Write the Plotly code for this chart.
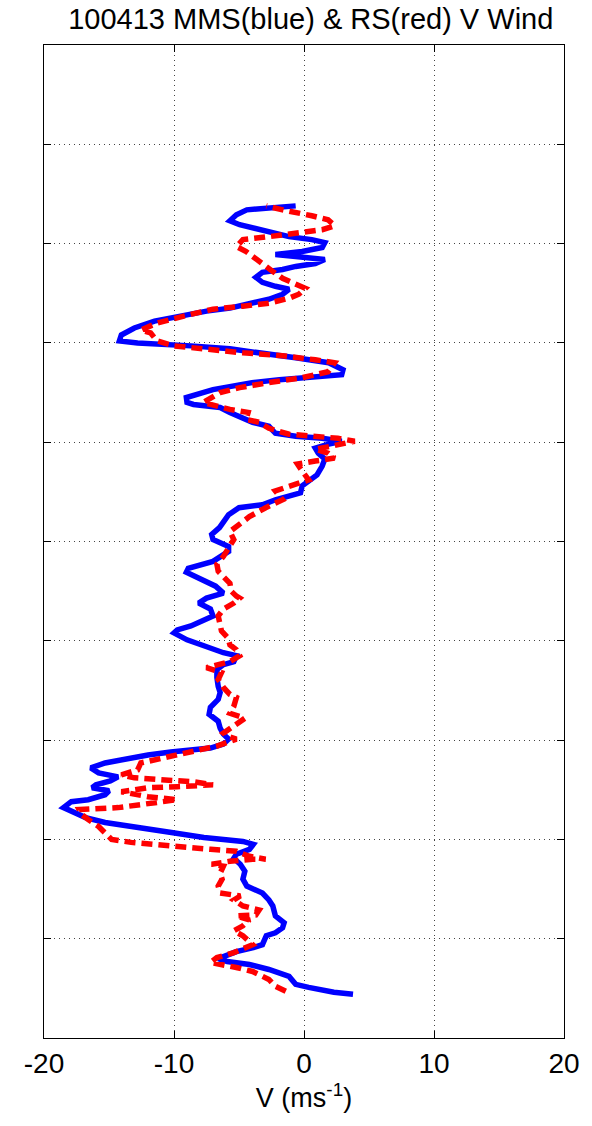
import plotly.graph_objects as go

# MMS (blue) V wind profile: (V in m/s, height index)
mms_v = [3.77, 2.3, 0.36, -0.64, -1.15, -2.7, -4.2, -5.9, -6.6, -6.2, -5.2, -3.9, -3.2, -2.9, -2.2,
         -1.65, -1.53, -2.2, -2.4, -2.7, -3.2, -4.4, -4.7, -4.55, -4.9, -5.4, -5.2, -4.2, -3.9, -4.7,
         -7.7, -10.2, -12.8, -15.3, -16.8, -17.3, -18.1, -18.5, -17.9, -16.6, -15.3, -15.0, -16.3, -16.0,
         -14.9, -14.3, -15.8, -16.4, -15.3, -13.8, -12.0, -10.25, -8.7, -7.2, -6.2, -5.8, -6.2, -6.45,
         -6.6, -7.3, -7.2, -6.6, -6.45, -6.6, -6.7, -6.7, -6.2, -5.4, -5.2, -6.2, -7.7, -9.0, -10.0,
         -9.75, -8.7, -7.0, -7.2, -8.1, -7.5, -6.2, -6.8, -8.05, -9.05, -8.9, -8.3, -7.0, -5.8, -5.8,
         -7.0, -7.1, -6.5, -6.2, -5.8, -5.0, -3.2, -2.2, -1.15, -0.27, -0.14, 0.36, 1.0, 1.4, 1.6, 1.1,
         0.87, 1.9, 2.9, 1.4, -0.64, -2.2, -2.7, -3.95, -4.95, -5.7, -6.45, -7.5, -8.5, -9.0, -9.05,
         -7.0, -5.7, -4.0, -1.9, 0.6, 2.9, 3.0, 1.9, -0.64, -3.2, -5.7, -8.7, -10.8, -12.8, -14.2,
         -14.05, -13.05, -11.5, -9.5, -7.5, -5.7, -3.95, -2.7, -1.65, -1.15, -2.2, -3.2, -3.7, -3.2,
         -1.65, -0.64, 0.87, 1.6, -0.64, -2.2, -0.14, 1.4, 1.6, 0.6, -1.15, -2.4, -3.7, -4.95, -5.7,
         -5.2, -4.4, -2.7, -0.64]
mms_h = [0.44, 0.46, 0.51, 0.54, 0.62, 0.69, 0.74, 0.77, 0.80, 0.82, 0.87, 0.91, 0.94, 1.03, 1.06,
         1.11, 1.16, 1.23, 1.33, 1.39, 1.46, 1.53, 1.60, 1.68, 1.75, 1.81, 1.85, 1.90, 1.95, 1.98,
         2.02, 2.07, 2.12, 2.17, 2.22, 2.25, 2.30, 2.32, 2.38, 2.40, 2.45, 2.49, 2.52, 2.55,
         2.59, 2.63, 2.67, 2.72, 2.77, 2.81, 2.85, 2.88, 2.90, 2.92, 2.96, 3.01, 3.06, 3.12,
         3.19, 3.26, 3.33, 3.41, 3.48, 3.54, 3.63, 3.71, 3.76, 3.79, 3.85, 3.88, 3.95, 4.01, 4.08,
         4.11, 4.15, 4.25, 4.32, 4.38, 4.43, 4.48, 4.55, 4.62, 4.69, 4.73, 4.75, 4.80, 4.90, 4.95,
         5.02, 5.07, 5.14, 5.20, 5.27, 5.34, 5.37, 5.42, 5.46, 5.49, 5.56, 5.61, 5.67, 5.76, 5.83, 5.89,
         5.94, 5.98, 6.01, 6.04, 6.06, 6.09, 6.16, 6.20, 6.25, 6.30, 6.35, 6.36, 6.38, 6.40, 6.45,
         6.53, 6.56, 6.60, 6.63, 6.65, 6.68, 6.73, 6.80, 6.85, 6.90, 6.94, 6.97, 6.98, 7.00, 7.02,
         7.08, 7.15, 7.22, 7.27, 7.32, 7.35, 7.40, 7.44, 7.49, 7.54, 7.57, 7.61, 7.66, 7.71,
         7.74, 7.77, 7.80, 7.84, 7.87, 7.89, 7.92, 7.96, 8.01, 8.04, 8.07, 8.11, 8.14, 8.19, 8.23,
         8.29, 8.34, 8.36, 8.38]

# RS (red) V wind profile
rs_v = [-1.4, -2.2, -2.7, -3.95, -5.2, -6.45, -7.2, -6.7, -5.4, -3.95, -4.7, -5.4, -4.7, -4.2, -5.2,
        -3.7, -3.45, -4.7, -5.4, -4.9, -6.45, -6.6, -6.3, -6.45, -6.2, -7.1, -5.7, -3.95, -2.95, -4.2,
        -5.2, -7.2, -10.25, -13.3, -14.8, -15.3, -15.8, -16.6, -17.1, -17.3, -14.3, -9.75, -12.0,
        -14.05, -12.0, -9.75, -7.0, -8.5, -10.8, -13.05, -14.05, -12.8, -12.55, -11.5, -9.75, -8.2,
        -6.7, -5.2, -5.9, -6.2, -5.2, -4.55, -5.7, -5.4, -5.2, -5.7, -6.2, -6.6, -6.35, -7.5, -6.6,
        -5.7, -4.95, -5.2, -5.7, -5.85, -6.35, -6.45, -6.6, -6.2, -5.4, -4.95, -5.2, -5.6, -5.7,
        -6.6, -6.7, -6.2, -5.7, -5.4, -5.7, -5.2, -4.2, -2.95, -1.65, -2.2, -0.64, 0.36, -0.14, -0.5,
        0.87, 2.35, 1.85, 0.87, 2.1, 3.9, 2.6, 0.6, -1.15, -2.7, -3.45, -4.45, -4.3, -5.7, -7.0, -7.75,
        -6.45, -4.95, -2.7, -0.14, 1.85, 2.35, 0.87, -1.65, -4.7, -7.75, -10.0, -11.3, -11.8, -12.55,
        -11.3, -9.25, -7.0, -4.7, -2.7, -1.15, -0.4, 0.1, -0.9, -1.65, -2.4, -3.1, -3.7, -4.45, -5.2,
        -4.7, -2.7, -0.64, 1.4, 2.35, 1.85, 0.6, -0.64, -1.65, -2.9]
rs_h = [0.47, 0.52, 0.59, 0.67, 0.71, 0.74, 0.76, 0.81, 0.86, 0.94, 1.03, 1.08, 1.13, 1.19, 1.23,
        1.24, 1.29, 1.33, 1.39, 1.43, 1.46, 1.53, 1.60, 1.66, 1.73, 1.75, 1.78, 1.80, 1.80, 1.83,
        1.88, 1.90, 1.93, 1.97, 2.00, 2.07, 2.13, 2.20, 2.25, 2.30, 2.32, 2.40, 2.43,
        2.48, 2.52, 2.53, 2.55, 2.58, 2.60, 2.62, 2.65, 2.70, 2.77, 2.80, 2.85, 2.90,
        2.94, 3.01, 3.04, 3.07, 3.17, 3.22, 3.27, 3.34, 3.43, 3.46, 3.53, 3.61, 3.68, 3.73, 3.76,
        3.79, 3.85, 3.91, 3.96, 4.03, 4.10, 4.16, 4.25, 4.32, 4.38, 4.43, 4.45, 4.50, 4.58,
        4.70, 4.77, 4.85, 4.95, 5.02, 5.10, 5.15, 5.25, 5.34, 5.42, 5.51, 5.57, 5.62, 5.71, 5.78,
        5.81, 5.84, 5.89, 5.93, 5.96, 6.01, 6.04, 6.06, 6.08, 6.14, 6.20, 6.23, 6.30, 6.33, 6.38, 6.40,
        6.50, 6.55, 6.60, 6.65, 6.71, 6.80, 6.83, 6.87, 6.90, 6.94, 6.97, 7.02, 7.10, 7.13,
        7.20, 7.27, 7.34, 7.37, 7.40, 7.45, 7.49, 7.55, 7.60, 7.65, 7.72, 7.79, 7.86, 7.92, 7.97,
        8.04, 8.07, 8.11, 8.14, 8.18, 8.24, 8.28, 8.31, 8.34, 8.38]

x_ticks = [-20, -10, 0, 10, 20]
x_tick_text = ["-20", "-10", "0", "10", "20"]
y_ticks = [0, 1, 2, 3, 4, 5, 6, 7, 8, 9, 10]

FONT = "Arial, Liberation Sans, sans-serif"

fig = go.Figure()
fig.add_trace(go.Scatter(x=mms_v, y=mms_h, mode="lines",
                         line=dict(color="#0000ff", width=5.5), name="MMS"))
fig.add_trace(go.Scatter(x=rs_v, y=rs_h, mode="lines",
                         line=dict(color="#ff0000", width=5.5, dash="11px,6px"), name="RS"))

axis_common = dict(
    showline=True, linecolor="black", linewidth=1, mirror="ticks",
    ticks="inside", ticklen=7, tickcolor="black",
    showgrid=True, gridcolor="#444444", gridwidth=1, griddash="1px,4px",
    zeroline=False,
)

fig.update_layout(
    width=592, height=1126,
    margin=dict(l=44, r=20, t=45, b=88),
    paper_bgcolor="white", plot_bgcolor="white",
    showlegend=False,
    title=dict(text="100413 MMS(blue) & RS(red) V Wind", x=0.525, xanchor="center",
               y=0.983, yanchor="middle", font=dict(family=FONT, size=29, color="black")),
    xaxis=dict(range=[-20, 20], tickvals=x_ticks, ticktext=x_tick_text,
               tickfont=dict(family=FONT, size=28, color="black"),
               title=dict(text="V (ms<sup>-1</sup>)", font=dict(family=FONT, size=27, color="black"),
                          standoff=3),
               **axis_common),
    yaxis=dict(range=[0, 10], tickvals=y_ticks, showticklabels=False, **axis_common),
)

fig.write_html("out.html")
